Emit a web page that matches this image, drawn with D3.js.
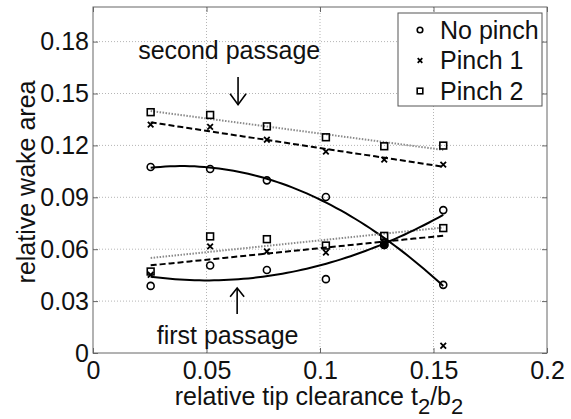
<!DOCTYPE html>
<html>
<head>
<meta charset="utf-8">
<script src="https://cdn.jsdelivr.net/npm/d3@7"></script>
<style>
  html, body { margin: 0; padding: 0; background: #fff; }
  svg { display: block; font-family: "Liberation Sans", Arial, sans-serif; }
</style>
</head>
<body>
<svg id="chart" width="571" height="419"></svg>
<script>
// ---------- data ----------
const clearance       = [0.0254, 0.0516, 0.0766, 0.1026, 0.1283, 0.1543];
const noPinchSecond   = [0.1075, 0.1064, 0.0998, 0.0902, 0.0639, 0.0394];
const pinch1Second    = [0.1320, 0.1307, 0.1233, 0.1164, 0.1118, 0.1089];
const pinch2Second    = [0.1392, 0.1376, 0.1310, 0.1247, 0.1195, 0.1199];
const noPinchFirst    = [0.0388, 0.0506, 0.0480, 0.0427, 0.0625, 0.0826];
const pinch1First     = [0.0452, 0.0616, 0.0587, 0.0581, 0.0640, 0.0042];
const pinch2First     = [0.0471, 0.0674, 0.0658, 0.0621, 0.0677, 0.0722];
const pinch1FirstFitUse = [true, true, true, true, true, false]; // outlier excluded from fit

const xTicks = [0, 0.05, 0.1, 0.15, 0.2];
const xTickLabels = ["0", "0.05", "0.1", "0.15", "0.2"];
const yTicks = [0, 0.03, 0.06, 0.09, 0.12, 0.15, 0.18];
const yTickLabels = ["0", "0.03", "0.06", "0.09", "0.12", "0.15", "0.18"];
const legendLabels = ["No pinch", "Pinch 1", "Pinch 2"];

// ---------- layout ----------
const svg = d3.select("#chart");
const L = 93, R = 547, T = 7, B = 353;
const x = d3.scaleLinear().domain([0, 0.2]).range([L, R]);
const y = d3.scaleLinear().domain([0, 0.2]).range([B, T]);
const FS = 25;

// least-squares polynomial fit
function polyfit(xs, ys, deg) {
  const n = deg + 1;
  const A = Array.from({length: n}, () => new Array(n + 1).fill(0));
  xs.forEach((xv, i) => {
    for (let r = 0; r < n; r++) {
      for (let c = 0; c < n; c++) A[r][c] += Math.pow(xv, r + c);
      A[r][n] += ys[i] * Math.pow(xv, r);
    }
  });
  for (let i = 0; i < n; i++) {
    let p = i;
    for (let k = i + 1; k < n; k++) if (Math.abs(A[k][i]) > Math.abs(A[p][i])) p = k;
    [A[i], A[p]] = [A[p], A[i]];
    for (let k = i + 1; k < n; k++) {
      const f = A[k][i] / A[i][i];
      for (let c = i; c <= n; c++) A[k][c] -= f * A[i][c];
    }
  }
  const coef = new Array(n).fill(0);
  for (let i = n - 1; i >= 0; i--) {
    let s = A[i][n];
    for (let c = i + 1; c < n; c++) s -= A[i][c] * coef[c];
    coef[i] = s / A[i][i];
  }
  return xv => coef.reduce((s, cf, k) => s + cf * Math.pow(xv, k), 0);
}
function fitCurve(ys, deg, use) {
  const xs2 = [], ys2 = [];
  clearance.forEach((xv, i) => { if (!use || use[i]) { xs2.push(xv); ys2.push(ys[i]); } });
  const f = polyfit(xs2, ys2, deg);
  const x0 = clearance[0], x1 = clearance[clearance.length - 1];
  return d3.range(0, 61).map(i => { const xv = x0 + (x1 - x0) * i / 60; return [xv, f(xv)]; });
}

// ---------- grid ----------
const grid = svg.append("g").attr("stroke", "#b5b5b5").attr("stroke-width", 1)
  .attr("stroke-dasharray", "1,2");
xTicks.filter(v => v > 0 && v < 0.2).forEach(v => {
  grid.append("line").attr("x1", x(v)).attr("x2", x(v)).attr("y1", B).attr("y2", T);
});
yTicks.filter(v => v > 0).forEach(v => {
  grid.append("line").attr("x1", L).attr("x2", R).attr("y1", y(v)).attr("y2", y(v));
});

// ---------- axes ----------
const axisColor = "#666";
function styleAxis(g) {
  g.select(".domain").remove();
  g.selectAll(".tick line").attr("stroke", axisColor);
  g.selectAll(".tick text").attr("fill", "#111").attr("font-size", FS)
    .attr("font-family", "Liberation Sans, Arial, sans-serif");
}
svg.append("g").attr("transform", `translate(0,${B})`)
  .call(d3.axisBottom(x).tickValues(xTicks).tickSize(-5).tickPadding(8)
    .tickFormat((d, i) => xTickLabels[i]))
  .call(styleAxis);
svg.append("g").attr("transform", `translate(${L},0)`)
  .call(d3.axisLeft(y).tickValues(yTicks).tickSize(-5).tickPadding(4)
    .tickFormat((d, i) => yTickLabels[i]))
  .call(styleAxis);
svg.append("g").attr("transform", `translate(0,${T})`)
  .call(d3.axisTop(x).tickValues(xTicks).tickSize(-5).tickFormat(""))
  .call(styleAxis);
svg.append("g").attr("transform", `translate(${R},0)`)
  .call(d3.axisRight(y).tickValues(yTicks).tickSize(-5).tickFormat(""))
  .call(styleAxis);
svg.append("rect").attr("x", L).attr("y", T).attr("width", R - L).attr("height", B - T)
  .attr("fill", "none").attr("stroke", axisColor).attr("stroke-width", 1);

// axis titles
const xt = svg.append("text").attr("x", (L + R) / 2 - 1).attr("y", 405)
  .attr("text-anchor", "middle").attr("font-size", FS).attr("fill", "#111");
xt.append("tspan").text("relative tip clearance t");
xt.append("tspan").attr("font-size", 22).attr("dy", 9).text("2");
xt.append("tspan").attr("dy", -9).text("/b");
xt.append("tspan").attr("font-size", 22).attr("dy", 9).text("2");

svg.append("text").attr("transform", `translate(35,${(T + B) / 2 + 2}) rotate(-90)`)
  .attr("text-anchor", "middle").attr("font-size", FS).attr("fill", "#111")
  .text("relative wake area");

// ---------- fit lines ----------
const line = d3.line().x(d => x(d[0])).y(d => y(d[1]));
const plot = svg.append("g");
function drawFit(pts, style) {
  plot.append("path").datum(pts).attr("d", line).attr("fill", "none")
    .attr("stroke", style.color).attr("stroke-width", style.width)
    .attr("stroke-dasharray", style.dash || null);
}
const solid = {color: "#000", width: 2};
const dashed = {color: "#000", width: 2, dash: "6,3"};
const dotted = {color: "#8a8a8a", width: 2, dash: "1.5,1.5"};

drawFit(fitCurve(pinch2Second, 1), dotted);
drawFit(fitCurve(pinch1Second, 1), dashed);
drawFit(fitCurve(noPinchSecond, 2), solid);
drawFit(fitCurve(pinch2First, 1), dotted);
drawFit(fitCurve(pinch1First, 1, pinch1FirstFitUse), dashed);
drawFit(fitCurve(noPinchFirst, 2), solid);

// ---------- markers ----------
function circle(g, cx, cy, s, filled) {
  g.append("circle").attr("cx", cx).attr("cy", cy).attr("r", s).attr("fill", filled ? "#000" : "none")
    .attr("stroke", "#000").attr("stroke-width", 1.6);
}
function cross(g, cx, cy, s) {
  g.append("path").attr("d", `M${cx - s},${cy - s}L${cx + s},${cy + s}M${cx - s},${cy + s}L${cx + s},${cy - s}`)
    .attr("stroke", "#000").attr("stroke-width", 1.8);
}
function square(g, cx, cy, s) {
  g.append("rect").attr("x", cx - s).attr("y", cy - s).attr("width", 2 * s).attr("height", 2 * s)
    .attr("fill", "none").attr("stroke", "#000").attr("stroke-width", 1.6);
}
const marks = svg.append("g");
[[noPinchSecond, circle, 3.5], [noPinchFirst, circle, 3.5],
 [pinch1Second, cross, 2.8], [pinch1First, cross, 2.8],
 [pinch2Second, square, 3.4], [pinch2First, square, 3.4]].forEach(([ys, fn, s]) => {
  ys.forEach((v, i) => fn(marks, x(clearance[i]), y(v), s));
});
// the crossing point where all first-passage markers pile up reads as a solid dot
circle(marks, x(clearance[4]), y(noPinchFirst[4]), 3.6, true);

// ---------- annotations ----------
const ann = svg.append("g").attr("stroke", "#000").attr("stroke-width", 1.6).attr("fill", "none");
const ax = x(0.0639);
ann.append("path").attr("d", `M${ax},${y(0.1595)}L${ax},${y(0.1435)}`);
ann.append("path").attr("d", `M${ax - 8},${y(0.1499)}L${ax},${y(0.1435)}L${ax + 8},${y(0.1499)}`);
const bx = x(0.0635);
ann.append("path").attr("d", `M${bx},${y(0.0226)}L${bx},${y(0.0376)}`);
ann.append("path").attr("d", `M${bx - 7},${y(0.0325)}L${bx},${y(0.0376)}L${bx + 7},${y(0.0325)}`);
svg.append("text").attr("x", x(0.0600)).attr("y", y(0.1702)).attr("text-anchor", "middle")
  .attr("font-size", FS).attr("fill", "#111").text("second passage");
svg.append("text").attr("x", x(0.0593)).attr("y", y(0.0052)).attr("text-anchor", "middle")
  .attr("font-size", FS).attr("fill", "#111").text("first passage");

// ---------- legend ----------
const lg = svg.append("g");
lg.append("rect").attr("x", 398).attr("y", 13).attr("width", 144).attr("height", 93)
  .attr("fill", "#fff").attr("stroke", "#555").attr("stroke-width", 1);
const legendMarkers = [circle, cross, square];
const legendSizes = [2.8, 2.3, 2.8];
legendLabels.forEach((lab, i) => {
  const cy = 30 + i * 30.5;
  legendMarkers[i](lg, 420, cy, legendSizes[i]);
  lg.append("text").attr("x", 440).attr("y", cy + 8.5).attr("font-size", FS).attr("fill", "#111").text(lab);
});
</script>
</body>
</html>
